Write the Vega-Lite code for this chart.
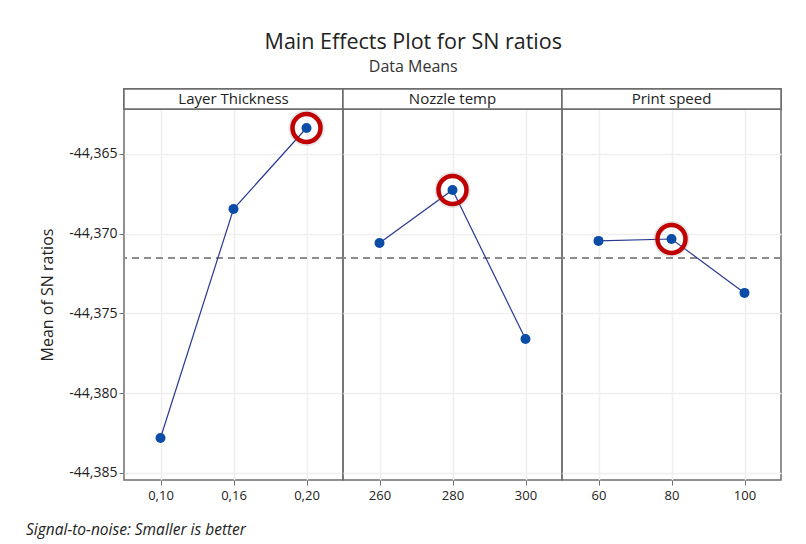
{
  "$schema": "https://vega.github.io/schema/vega-lite/v6.json",
  "background": "white",
  "padding": {"left": 26, "top": 32, "right": 26, "bottom": 0},
  "config": {
    "locale": {"number": {"decimal": ",", "thousands": ".", "grouping": [3], "currency": ["", " €"], "minus": "-"}},
    "font": "Open Sans",
    "view": {"stroke": "#6e6e6e", "strokeWidth": 1.5},
    "axis": {"labelFont": "Open Sans", "labelColor": "#222222", "labelFontSize": 13, "tickColor": "#6e6e6e", "tickSize": 5, "domain": false, "gridColor": "#efefef", "gridWidth": 1.5, "titleFont": "Open Sans", "titleColor": "#222222"}
  },
  "title": {
    "text": "Main Effects Plot for SN ratios",
    "subtitle": "Data Means",
    "anchor": "middle",
    "frame": "bounds",
    "font": "Open Sans",
    "fontSize": 21.5,
    "fontWeight": "normal",
    "color": "#222222",
    "subtitleFont": "Open Sans",
    "subtitleFontSize": 16,
    "subtitleColor": "#333333",
    "subtitlePadding": 5,
    "offset": 13,
    "dx": 9
  },
  "data": {
    "values": [
      {"factor": "Layer Thickness", "level": "0,10", "sn": -44.38281, "best": false},
      {"factor": "Layer Thickness", "level": "0,16", "sn": -44.36845, "best": false},
      {"factor": "Layer Thickness", "level": "0,20", "sn": -44.36337, "best": true},
      {"factor": "Nozzle temp", "level": "260", "sn": -44.37058, "best": false},
      {"factor": "Nozzle temp", "level": "280", "sn": -44.36726, "best": true},
      {"factor": "Nozzle temp", "level": "300", "sn": -44.3766, "best": false},
      {"factor": "Print speed", "level": "60", "sn": -44.37045, "best": false},
      {"factor": "Print speed", "level": "80", "sn": -44.37033, "best": true},
      {"factor": "Print speed", "level": "100", "sn": -44.37371, "best": false}
    ]
  },
  "spacing": 0,
  "vconcat": [
    {
      "spacing": 0,
      "bounds": "flush",
      "resolve": {"scale": {"x": "independent"}},
      "title": {
        "text": "Signal-to-noise: Smaller is better",
        "orient": "bottom",
        "anchor": "start",
        "frame": "bounds",
        "font": "Open Sans",
        "fontStyle": "italic",
        "fontWeight": "normal",
        "fontSize": 15.5,
        "color": "#222222",
        "dx": -13,
        "offset": 20
      },
      "facet": {"column": {"field": "factor", "type": "nominal", "sort": null, "header": {"labels": false, "title": null}}},
      "spec": {
        "width": 219,
        "height": 391,
        "encoding": {
          "x": {"field": "level", "type": "ordinal", "sort": null, "scale": {"type": "point", "padding": 0.5}, "axis": {"title": null, "labelAngle": 0, "grid": true, "labelPadding": 4, "labelFontSize": 13}},
          "y": {"field": "sn", "type": "quantitative", "scale": {"domain": [-44.38544, -44.360926], "nice": false, "zero": false}, "axis": {"title": "Mean of SN ratios", "values": [-44.385, -44.38, -44.375, -44.37, -44.365], "format": ".3f", "labelFontSize": 14, "labelPadding": 2, "titleFontSize": 16, "titleFontWeight": "normal", "titlePadding": 12, "titleX": -69, "titleY": 205.5}}
        },
        "layer": [
          {"mark": {"type": "rule", "color": "#8c8c8c", "strokeDash": [7, 5], "strokeWidth": 1.5}, "encoding": {"x": null, "y": {"datum": -44.37152, "type": "quantitative"}}},
          {"mark": {"type": "rect", "fill": "white", "stroke": "#6e6e6e", "strokeWidth": 1.5}, "encoding": {"x": null, "y": {"datum": -44.36218, "type": "quantitative"}, "y2": {"datum": -44.360926}}},
          {"transform": [{"filter": "datum.best"}], "mark": {"type": "text", "fontSize": 15, "color": "#222222", "font": "Open Sans", "align": "center", "baseline": "middle"}, "encoding": {"x": null, "y": {"datum": -44.361553, "type": "quantitative"}, "text": {"field": "factor", "type": "nominal"}}},
          {"mark": {"type": "line", "color": "#2b3990", "strokeWidth": 1.2}},
          {"mark": {"type": "point", "filled": true, "shape": "circle", "size": 100, "color": "#0a4ca6", "opacity": 1}},
          {"transform": [{"filter": "datum.best"}], "mark": {"type": "point", "filled": false, "shape": "circle", "size": 900, "strokeWidth": 6, "color": "#9a9a9a", "opacity": 0.25}},
          {"transform": [{"filter": "datum.best"}], "mark": {"type": "point", "filled": false, "shape": "circle", "size": 784, "strokeWidth": 4.5, "color": "#c00000", "opacity": 1}}
        ]
      }
    }
  ]
}
